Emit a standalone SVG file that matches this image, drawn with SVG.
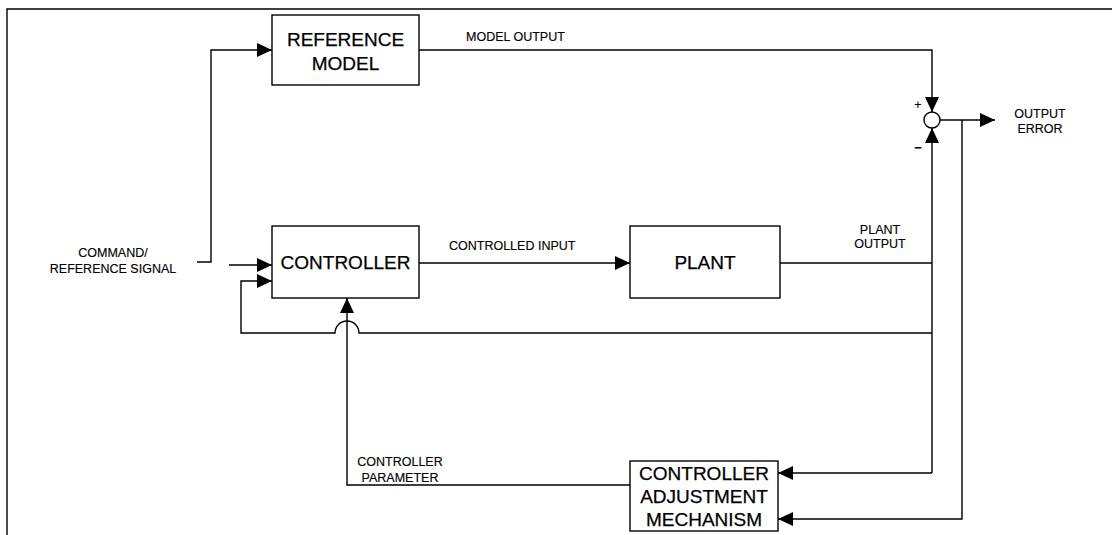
<svg xmlns="http://www.w3.org/2000/svg" width="1112" height="535" viewBox="0 0 1112 535">
<style>
  .box { fill: #fff; stroke: #000; stroke-width: 1.4; }
  .ln { fill: none; stroke: #000; stroke-width: 1.4; }
  .bt { font-family: "Liberation Sans", Arial, sans-serif; font-size: 19px; fill: #000; text-anchor: middle; stroke: #000; stroke-width: 0.25; }
  .lb { font-family: "Liberation Sans", Arial, sans-serif; font-size: 12.5px; fill: #000; stroke: #000; stroke-width: 0.15; }
  .mid { text-anchor: middle; }
</style>
<defs>
  <marker id="ah" markerUnits="userSpaceOnUse" markerWidth="16" markerHeight="14" refX="15" refY="7" orient="auto">
    <path d="M0,0 L15,7 L0,14 Z" fill="#000"/>
  </marker>
</defs>
<rect width="1112" height="535" fill="#fff"/>
<path class="ln" d="M7,535 V9 H1112" stroke-width="1.6"/>

<g id="connectors">
  <path class="ln" d="M197,262 H211 V50 H272" marker-end="url(#ah)"/>
  <path class="ln" d="M229,265 H272" marker-end="url(#ah)"/>
  <path class="ln" d="M932,333 H359 A12,12 0 0 0 335,333 H241 V281 H272" marker-end="url(#ah)"/>
  <path class="ln" d="M630,485 H347 V298" marker-end="url(#ah)"/>
  <path class="ln" d="M419,263 H630" marker-end="url(#ah)"/>
  <path class="ln" d="M780,263 H932"/>
  <path class="ln" d="M419,50 H932 V112" marker-end="url(#ah)"/>
  <path class="ln" d="M932,473 V128" marker-end="url(#ah)"/>
  <path class="ln" d="M932,473 H778" marker-end="url(#ah)"/>
  <path class="ln" d="M940,120 H995" marker-end="url(#ah)"/>
  <path class="ln" d="M962,120 V519 H778" marker-end="url(#ah)"/>
</g>

<g id="reference-model">
  <rect class="box" x="272" y="15" width="147" height="70"/>
  <text class="bt" x="345.5" y="46">REFERENCE</text>
  <text class="bt" x="345.5" y="70">MODEL</text>
</g>
<g id="controller">
  <rect class="box" x="272" y="226" width="147" height="72"/>
  <text class="bt" x="345.5" y="269">CONTROLLER</text>
</g>
<g id="plant">
  <rect class="box" x="630" y="226" width="150" height="72"/>
  <text class="bt" x="705" y="269">PLANT</text>
</g>
<g id="adjustment">
  <rect class="box" x="630" y="461" width="148" height="70"/>
  <text class="bt" x="704" y="480">CONTROLLER</text>
  <text class="bt" x="704" y="503">ADJUSTMENT</text>
  <text class="bt" x="704" y="526">MECHANISM</text>
</g>
<g id="sum">
  <circle cx="932" cy="120" r="8" fill="#fff" stroke="#000" stroke-width="1.4"/>
  <text class="lb mid" x="918" y="109" font-size="16">+</text>
  <text class="lb mid" x="918" y="152" font-size="17" font-weight="bold">−</text>
</g>

<g id="labels">
  <text class="lb" x="466" y="41" font-size="13.5">MODEL OUTPUT</text>
  <text class="lb mid" x="1040" y="118">OUTPUT</text>
  <text class="lb mid" x="1040" y="133">ERROR</text>
  <text class="lb mid" x="113" y="257">COMMAND/</text>
  <text class="lb mid" x="113" y="273">REFERENCE SIGNAL</text>
  <text class="lb" x="449" y="250" font-size="13.5">CONTROLLED INPUT</text>
  <text class="lb mid" x="880" y="234">PLANT</text>
  <text class="lb mid" x="880" y="248">OUTPUT</text>
  <text class="lb mid" x="400" y="466">CONTROLLER</text>
  <text class="lb mid" x="400" y="482">PARAMETER</text>
</g>
</svg>
